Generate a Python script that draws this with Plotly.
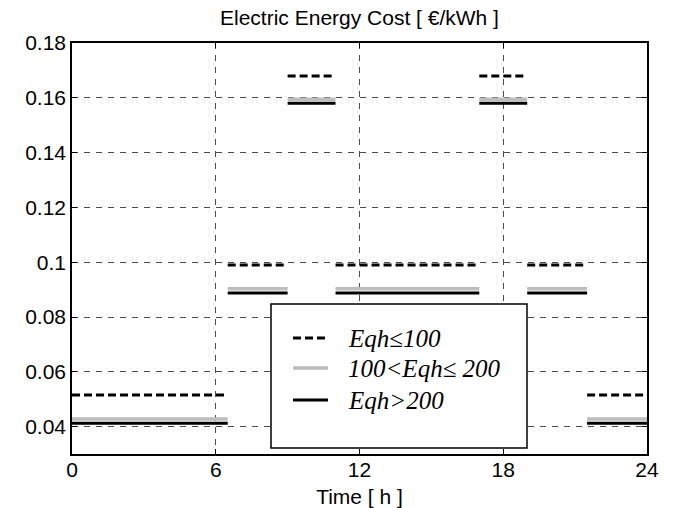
import plotly.graph_objects as go

# Time-of-use tariff bands over the day
time_edges = [0, 6.5, 9, 11, 17, 19, 21.5, 24]
band_of_segment = ["F3", "F2", "F1", "F2", "F1", "F2", "F3"]

# Energy price per band [EUR/kWh] for each consumption class
series_names = ["Eqh≤100", "100&lt;Eqh≤ 200", "Eqh&gt;200"]
price_low_use = {"F1": 0.168, "F2": 0.099, "F3": 0.0515}
price_mid_use = {"F1": 0.1595, "F2": 0.0903, "F3": 0.0428}
price_high_use = {"F1": 0.158, "F2": 0.0888, "F3": 0.0412}

x_tick_vals = [0, 6, 12, 18, 24]
x_tick_labels = ["0", "6", "12", "18", "24"]
y_tick_vals = [0.04, 0.06, 0.08, 0.10, 0.12, 0.14, 0.16, 0.18]
y_tick_labels = ["0.04", "0.06", "0.08", "0.1", "0.12", "0.14", "0.16", "0.18"]

styles = [
    dict(color="black", width=3, dash="8px,4px"),
    dict(color="#bdbdbd", width=3.5, dash="solid"),
    dict(color="black", width=3, dash="solid"),
]

# Plot area in pixels (for placing the legend panel)
W, H = 677, 508
L, R, T, B = 72, 30, 43, 54
PW, PH = W - L - R, H - T - B


def px_x(px):
    return (px - L) / PW


def px_y(py):
    return 1 - (py - T) / PH


def step_segments(prices):
    xs, ys = [], []
    for i, band in enumerate(band_of_segment):
        xs += [time_edges[i], time_edges[i + 1], None]
        ys += [prices[band], prices[band], None]
    return xs, ys


fig = go.Figure()
for name, prices, style in zip(series_names,
                               [price_low_use, price_mid_use, price_high_use],
                               styles):
    xs, ys = step_segments(prices)
    fig.add_trace(go.Scatter(x=xs, y=ys, mode="lines", name=name,
                             line=style, connectgaps=False, showlegend=False))

axis_font = dict(family="Liberation Sans, Arial, sans-serif", size=21, color="black")
grid_style = dict(showgrid=True, gridcolor="#4d4d4d", gridwidth=1, griddash="6px,6px",
                  showline=True, linecolor="black", linewidth=1.5, mirror="ticks",
                  ticks="inside", ticklen=5, tickcolor="black", zeroline=False,
                  tickfont=axis_font, automargin=False)

fig.update_xaxes(range=[0, 24], tickvals=x_tick_vals, ticktext=x_tick_labels,
                 ticklabelstandoff=-4,
                 title=dict(text="Time [ h ]", font=axis_font, standoff=9),
                 **grid_style)
fig.update_yaxes(range=[0.03, 0.18], tickvals=y_tick_vals, ticktext=y_tick_labels,
                 **grid_style)

# Legend panel: frame, line samples and labels
fig.add_shape(type="rect", xref="paper", yref="paper",
              x0=px_x(271), x1=px_x(527), y0=px_y(448), y1=px_y(304),
              line=dict(color="black", width=1.5), fillcolor="white", layer="above")
legend_rows = [338, 368, 400]
legend_font = dict(family="Liberation Serif, Times New Roman, serif", size=25,
                   style="italic", color="black")
for name, style, row in zip(series_names, styles, legend_rows):
    fig.add_shape(type="line", xref="paper", yref="paper",
                  x0=px_x(293), x1=px_x(328), y0=px_y(row), y1=px_y(row),
                  line=style, layer="above")
    fig.add_annotation(text=name, xref="paper", yref="paper",
                       x=px_x(346), y=px_y(row), xanchor="left", yanchor="middle",
                       showarrow=False, font=legend_font)

fig.update_layout(
    width=W, height=H,
    margin=dict(l=L, r=R, t=T, b=B),
    paper_bgcolor="white", plot_bgcolor="white",
    title=dict(text="Electric Energy Cost [ €/kWh ]", x=0.531, xanchor="center",
               y=0.965, yanchor="middle", font=axis_font),
    showlegend=False,
)

fig.write_html("out.html")
